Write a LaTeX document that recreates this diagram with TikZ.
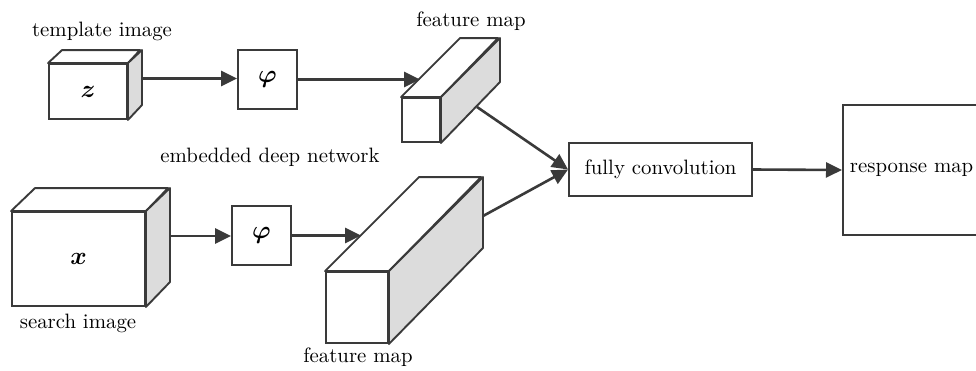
\documentclass[tikz,border=0pt]{standalone}
\usepackage{bm}
\usetikzlibrary{arrows.meta,calc}
\definecolor{ink}{HTML}{3A3A3A}
\definecolor{shade}{HTML}{DCDCDC}
% text set at the 10pt design size, then enlarged
\newcommand{\bigtxt}[1]{\scalebox{2.08}{#1}}
\newcommand{\bigsym}[1]{\scalebox{2.5}{$\bm{#1}$}}
\tikzset{
  face/.style={draw=ink, line width=1.9pt, line join=round},
  sideface/.style={face, fill=shade},
  topface/.style={face, fill=white},
  frontbox/.style={draw=ink, fill=white, line width=1.9pt, inner sep=0pt},
  opbox/.style={frontbox, minimum width=59pt, minimum height=59pt},
  flow/.style={draw=ink, line width=2.6pt,
    -{Triangle[length=16pt,width=15pt]}},
  lbl/.style={inner sep=0pt, text=black}
}
\begin{document}
\begin{tikzpicture}[x=1pt,y=-1pt,font=\fontsize{10}{12}\selectfont]
\clip (0,0) rectangle (976,370);
\fill[white] (0,0) rectangle (976,370);

% template image cube z
\node[frontbox, minimum width=78pt, minimum height=55pt] (tz) at (88,91.5) {\bigsym{z}};
\draw[topface] (tz.north west) -- ++(14,-13) -- ++(78,0) -- (tz.north east) -- cycle;
\draw[sideface] (tz.north east) -- ++(14,-13) -- ++(0,55) -- (tz.south east) -- cycle;
\coordinate (zout) at ($(tz.east)+(14,-13)$);
\node[lbl] (tlabel) at (102,31) {\bigtxt{template image}};

% search image cube x
\node[frontbox, minimum width=133pt, minimum height=94pt] (sx) at (78.5,259) {\bigsym{x}};
\draw[topface] (sx.north west) -- ++(24,-23) -- ++(133,0) -- (sx.north east) -- cycle;
\draw[sideface] (sx.north east) -- ++(24,-23) -- ++(0,94) -- (sx.south east) -- cycle;
\coordinate (xout) at ($(sx.east)+(24,-23)$);
\node[lbl] (slabel) at (78,323) {\bigtxt{search image}};

% embedding networks
\node[opbox] (phi1) at (267.5,79.5) {\bigsym{\varphi}};
\node[opbox] (phi2) at (261.5,235.5) {\bigsym{\varphi}};
\node[lbl] (elabel) at (270,157) {\bigtxt{embedded deep network}};

% upper feature map
\node[frontbox, minimum width=38pt, minimum height=44pt] (fm1) at (421,120) {};
\draw[topface] (fm1.north west) -- ++(59,-59) -- ++(38,0) -- (fm1.north east) -- cycle;
\draw[sideface] (fm1.north east) -- ++(59,-59) -- ++(0,44) -- (fm1.south east) -- cycle;
\coordinate (fm1in) at ($(fm1.north west)+(19,-19)$);
\coordinate (fm1out) at ($(fm1.south east)+(36,-36)$);
\node[lbl] (f1label) at (471,21) {\bigtxt{feature map}};

% lower feature map
\node[frontbox, minimum width=62pt, minimum height=71pt] (fm2) at (357,307.5) {};
\draw[topface] (fm2.north west) -- ++(94,-94) -- ++(62,0) -- (fm2.north east) -- cycle;
\draw[sideface] (fm2.north east) -- ++(94,-94) -- ++(0,71) -- (fm2.south east) -- cycle;
\coordinate (fm2in) at ($(fm2.north west)+(36,-36)$);
\coordinate (fm2out) at ($(fm2.north east)+(94,-55)$);
\node[lbl] (f2label) at (358,357) {\bigtxt{feature map}};

% cross correlation and output
\node[frontbox, minimum width=183pt, minimum height=53pt] (fc) at (660.5,169.5) {\bigtxt{fully convolution}};
\node[frontbox, minimum width=180pt, minimum height=130pt, anchor=west,
      text width=166pt, align=left, inner xsep=7pt] (rm) at (842,170) {\bigtxt{response map}};

% connectors
\draw[flow] (zout) -- (zout -| phi1.west);
\draw[flow] (xout) -- (xout -| phi2.west);
\draw[flow] (phi1.east) -- (phi1.east -| fm1in);
\draw[flow] (phi2.east) -- (phi2.east -| fm2in);
\draw[flow] (fm1out) -- (fc.west);
\draw[flow] (fm2out) -- (fc.west);
\draw[flow] (fc.east) -- (rm.west);
\end{tikzpicture}
\end{document}
